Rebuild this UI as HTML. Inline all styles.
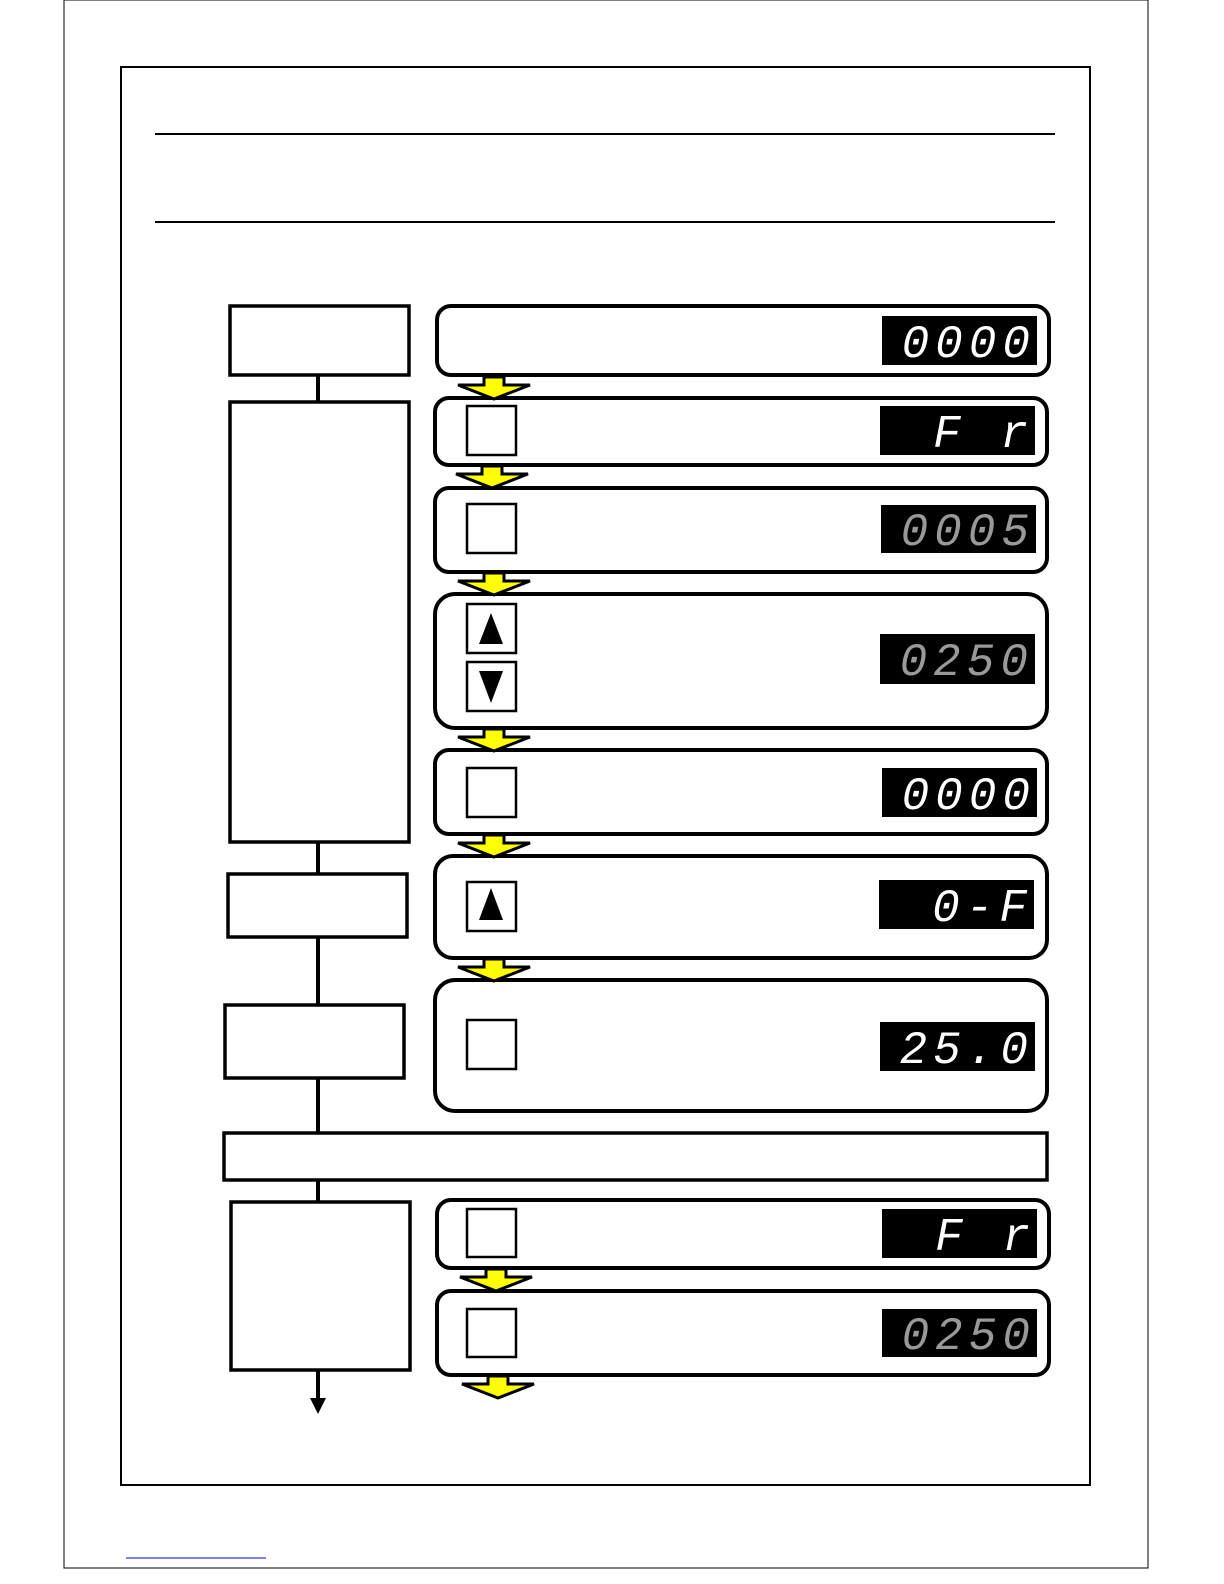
<!DOCTYPE html>
<html><head><meta charset="utf-8"><style>
html,body{margin:0;padding:0;background:#fff;overflow:hidden;width:1224px;height:1584px}
svg{display:block}
.d{font-family:"Liberation Mono",monospace;font-style:italic;font-size:46px;letter-spacing:6px}
</style></head><body>
<svg width="1224" height="1584" viewBox="0 0 1224 1584" xmlns="http://www.w3.org/2000/svg">
<defs>
<g id="arr"><path d="M-10,0 H10 V8 H36 L0,22 L-36,8 H-10 Z" fill="#ff0" stroke="#000" stroke-width="3" stroke-linejoin="miter"/></g>
</defs>
<rect x="64" y="0" width="1084" height="1568" fill="none" stroke="#000" stroke-width="1"/>
<rect x="121" y="67" width="969" height="1418" fill="none" stroke="#000" stroke-width="2"/>
<line x1="155" y1="134" x2="1055" y2="134" stroke="#000" stroke-width="2"/>
<line x1="155" y1="222" x2="1055" y2="222" stroke="#000" stroke-width="2"/>
<line x1="126" y1="1558" x2="266" y2="1558" stroke="#00f" stroke-width="1"/>

<line x1="318" y1="375" x2="318" y2="1402" stroke="#000" stroke-width="4"/>
<path d="M310,1398 H326 L318,1414 Z" fill="#000"/>
<g fill="#fff" stroke="#000" stroke-width="3.5">
<rect x="230" y="306" width="179" height="69"/>
<rect x="230" y="402" width="179" height="440"/>
<rect x="228" y="874" width="179" height="63"/>
<rect x="225" y="1005" width="179" height="73"/>
<rect x="224" y="1133" width="823" height="47"/>
<rect x="231" y="1202" width="179" height="168"/>
</g>

<g fill="#fff" stroke="#000" stroke-width="4">
<rect x="437" y="306" width="612" height="69" rx="14"/>
<rect x="435" y="398" width="612" height="67" rx="14"/>
<rect x="435" y="488" width="612" height="84" rx="14"/>
<rect x="435" y="594" width="612" height="134" rx="20"/>
<rect x="435" y="750" width="612" height="84" rx="14"/>
<rect x="435" y="856" width="612" height="102" rx="18"/>
<rect x="435" y="980" width="612" height="131" rx="20"/>
<rect x="437" y="1200" width="612" height="68" rx="14"/>
<rect x="437" y="1291" width="612" height="84" rx="14"/>
</g>
<g fill="#fff" stroke="#000" stroke-width="2.5">
<rect x="467" y="406" width="49" height="49"/>
<rect x="467" y="504" width="49" height="49"/>
<rect x="467" y="604" width="49" height="49"/>
<rect x="467" y="662" width="49" height="49"/>
<rect x="467" y="768" width="49" height="49"/>
<rect x="467" y="882" width="49" height="49"/>
<rect x="467" y="1020" width="49" height="49"/>
<rect x="467" y="1209" width="49" height="48"/>
<rect x="467" y="1309" width="49" height="48"/>
</g>
<path d="M491,613 L503,644 H479 Z" fill="#000"/>
<path d="M479,671 H503 L491,703 Z" fill="#000"/>
<path d="M491,888 L503,920 H479 Z" fill="#000"/>

<g fill="#000">
<rect x="882" y="316" width="155" height="49"/>
<rect x="880" y="406" width="155" height="49"/>
<rect x="881" y="505" width="155" height="48"/>
<rect x="880" y="634" width="155" height="50"/>
<rect x="882" y="768" width="155" height="49"/>
<rect x="879" y="880" width="155" height="49"/>
<rect x="880" y="1022" width="155" height="49"/>
<rect x="882" y="1209" width="155" height="49"/>
<rect x="882" y="1309" width="155" height="48"/>
</g>
<g class="d" text-anchor="end">
<text x="1036" y="357" fill="#fff">0000</text>
<text x="1034" y="447" fill="#fff">F r</text>
<text x="1035" y="545" fill="#999">0005</text>
<text x="1034" y="675" fill="#999">0250</text>
<text x="1036" y="809" fill="#fff">0000</text>
<text x="1033" y="921" fill="#fff">0-F</text>
<text x="1034" y="1063" fill="#fff">25.0</text>
<text x="1036" y="1250" fill="#fff">F r</text>
<text x="1036" y="1349" fill="#999">0250</text>
</g>

<use href="#arr" x="494" y="377"/>
<use href="#arr" x="492" y="466"/>
<use href="#arr" x="494" y="573"/>
<use href="#arr" x="494" y="729"/>
<use href="#arr" x="494" y="835"/>
<use href="#arr" x="494" y="959"/>
<use href="#arr" x="496" y="1269"/>
<use href="#arr" x="498" y="1376"/>
</svg>
</body></html>
